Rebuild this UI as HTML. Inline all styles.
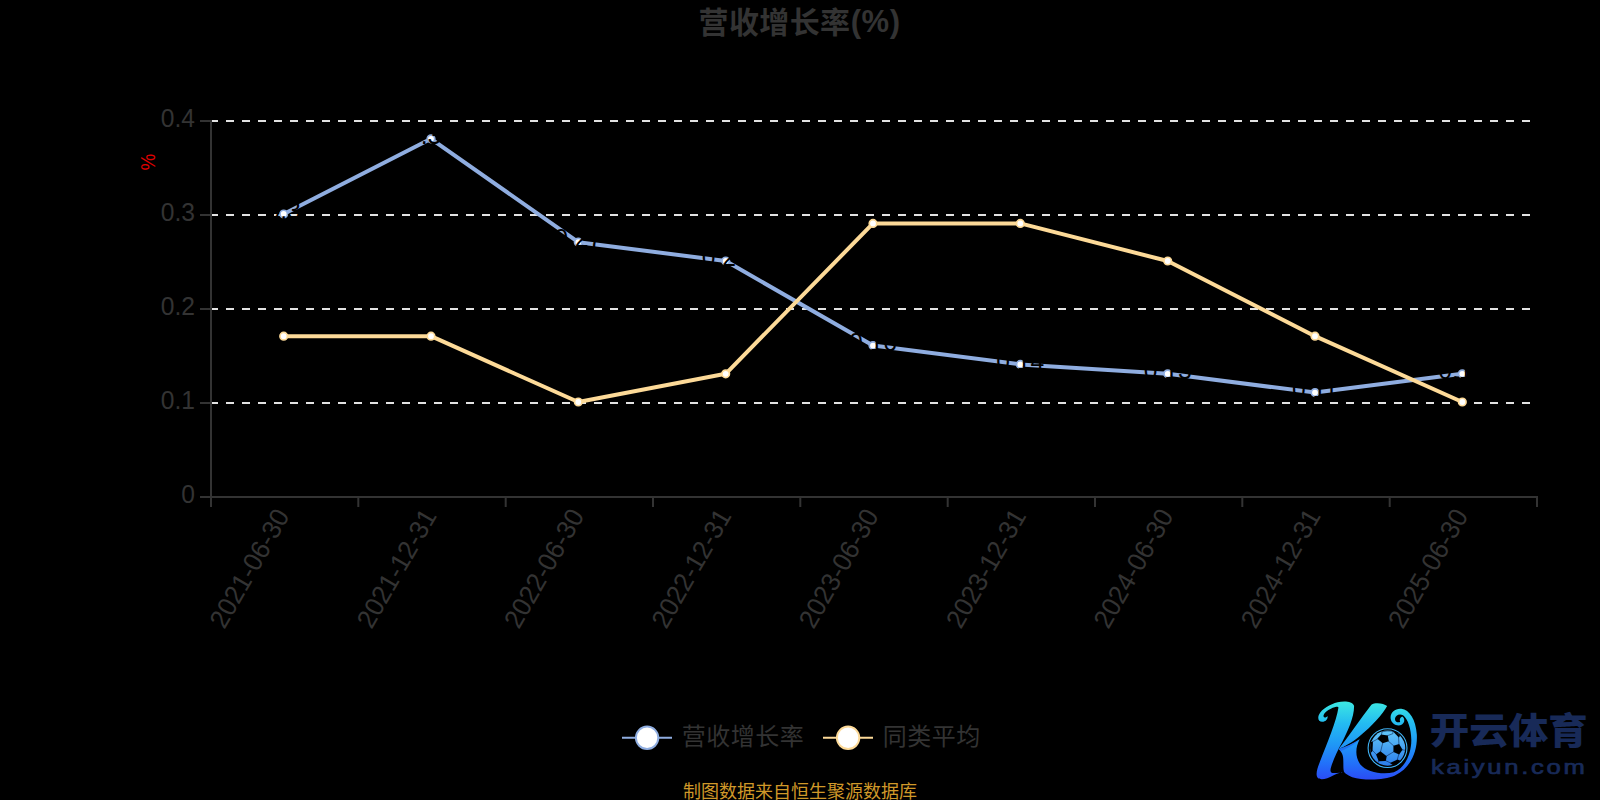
<!DOCTYPE html>
<html lang="zh-CN">
<head>
<meta charset="utf-8">
<title>营收增长率(%)</title>
<style>
html, body { margin: 0; padding: 0; background: #000; }
body { width: 1600px; height: 800px; overflow: hidden; position: relative; font-family: "Liberation Sans", "Noto Sans CJK SC", sans-serif; }
svg { position: absolute; left: 0; top: 0; display: block; }
text { font-family: "Liberation Sans", "Noto Sans CJK SC", sans-serif; }
</style>
</head>
<body>
<svg width="1600" height="800" viewBox="0 0 1600 800">
<rect x="0" y="0" width="1600" height="800" fill="#000"/>

<text x="698.6" y="33" font-size="30" font-weight="bold" fill="#333333" letter-spacing="0.35">营收增长率<tspan font-size="31" dx="0.3" dy="-1.5" letter-spacing="0.6">(%)</tspan></text>
<line x1="210" y1="403.0" x2="1536" y2="403.0" stroke="#e2e2e2" stroke-width="2" stroke-dasharray="8 8"/>
<line x1="210" y1="309.0" x2="1536" y2="309.0" stroke="#e2e2e2" stroke-width="2" stroke-dasharray="8 8"/>
<line x1="210" y1="215.0" x2="1536" y2="215.0" stroke="#e2e2e2" stroke-width="2" stroke-dasharray="8 8"/>
<line x1="210" y1="121.0" x2="1536" y2="121.0" stroke="#e2e2e2" stroke-width="2" stroke-dasharray="8 8"/>
<line x1="211" y1="120" x2="211" y2="498" stroke="#333333" stroke-width="2"/>
<line x1="210" y1="497" x2="1538" y2="497" stroke="#333333" stroke-width="2"/>
<line x1="200" y1="497.0" x2="211" y2="497.0" stroke="#333333" stroke-width="2"/>
<text transform="translate(195,502.60) scale(0.93,1)" font-size="26.5" fill="#333333" text-anchor="end">0</text>
<line x1="200" y1="403.0" x2="211" y2="403.0" stroke="#333333" stroke-width="2"/>
<text transform="translate(195,408.60) scale(0.93,1)" font-size="26.5" fill="#333333" text-anchor="end">0.1</text>
<line x1="200" y1="309.0" x2="211" y2="309.0" stroke="#333333" stroke-width="2"/>
<text transform="translate(195,314.60) scale(0.93,1)" font-size="26.5" fill="#333333" text-anchor="end">0.2</text>
<line x1="200" y1="215.0" x2="211" y2="215.0" stroke="#333333" stroke-width="2"/>
<text transform="translate(195,220.60) scale(0.93,1)" font-size="26.5" fill="#333333" text-anchor="end">0.3</text>
<line x1="200" y1="121.0" x2="211" y2="121.0" stroke="#333333" stroke-width="2"/>
<text transform="translate(195,126.60) scale(0.93,1)" font-size="26.5" fill="#333333" text-anchor="end">0.4</text>
<line x1="211.0" y1="497" x2="211.0" y2="507" stroke="#333333" stroke-width="2"/>
<line x1="358.3" y1="497" x2="358.3" y2="507" stroke="#333333" stroke-width="2"/>
<line x1="505.7" y1="497" x2="505.7" y2="507" stroke="#333333" stroke-width="2"/>
<line x1="653.0" y1="497" x2="653.0" y2="507" stroke="#333333" stroke-width="2"/>
<line x1="800.3" y1="497" x2="800.3" y2="507" stroke="#333333" stroke-width="2"/>
<line x1="947.7" y1="497" x2="947.7" y2="507" stroke="#333333" stroke-width="2"/>
<line x1="1095.0" y1="497" x2="1095.0" y2="507" stroke="#333333" stroke-width="2"/>
<line x1="1242.3" y1="497" x2="1242.3" y2="507" stroke="#333333" stroke-width="2"/>
<line x1="1389.7" y1="497" x2="1389.7" y2="507" stroke="#333333" stroke-width="2"/>
<line x1="1537.0" y1="497" x2="1537.0" y2="507" stroke="#333333" stroke-width="2"/>
<text transform="translate(285.7,513) rotate(-60) scale(0.975,1)" font-size="26.5" fill="#333333" text-anchor="end" y="5.25">2021-06-30</text>
<text transform="translate(433.0,513) rotate(-60) scale(0.975,1)" font-size="26.5" fill="#333333" text-anchor="end" y="5.25">2021-12-31</text>
<text transform="translate(580.3,513) rotate(-60) scale(0.975,1)" font-size="26.5" fill="#333333" text-anchor="end" y="5.25">2022-06-30</text>
<text transform="translate(727.7,513) rotate(-60) scale(0.975,1)" font-size="26.5" fill="#333333" text-anchor="end" y="5.25">2022-12-31</text>
<text transform="translate(875.0,513) rotate(-60) scale(0.975,1)" font-size="26.5" fill="#333333" text-anchor="end" y="5.25">2023-06-30</text>
<text transform="translate(1022.3,513) rotate(-60) scale(0.975,1)" font-size="26.5" fill="#333333" text-anchor="end" y="5.25">2023-12-31</text>
<text transform="translate(1169.7,513) rotate(-60) scale(0.975,1)" font-size="26.5" fill="#333333" text-anchor="end" y="5.25">2024-06-30</text>
<text transform="translate(1317.0,513) rotate(-60) scale(0.975,1)" font-size="26.5" fill="#333333" text-anchor="end" y="5.25">2024-12-31</text>
<text transform="translate(1464.3,513) rotate(-60) scale(0.975,1)" font-size="26.5" fill="#333333" text-anchor="end" y="5.25">2025-06-30</text>
<text transform="translate(155.2,162) rotate(-90) scale(0.9,1)" font-size="21" fill="#e00000" text-anchor="middle">%</text>
<polyline points="283.7,214.0 431.0,138.8 578.3,242.2 725.7,261.0 873.0,345.6 1020.3,364.4 1167.7,373.8 1315.0,392.6 1462.3,373.8" fill="none" stroke="#8fade0" stroke-width="4" stroke-linejoin="bevel"/>
<polyline points="283.7,336.2 431.0,336.2 578.3,402.0 725.7,373.8 873.0,223.4 1020.3,223.4 1167.7,261.0 1315.0,336.2 1462.3,402.0" fill="none" stroke="#fdda98" stroke-width="4" stroke-linejoin="bevel"/>
<circle cx="283.7" cy="214.0" r="3.75" fill="#fff" stroke="#8fade0" stroke-width="1.7"/>
<circle cx="431.0" cy="138.8" r="3.75" fill="#fff" stroke="#8fade0" stroke-width="1.7"/>
<circle cx="578.3" cy="242.2" r="3.75" fill="#fff" stroke="#8fade0" stroke-width="1.7"/>
<circle cx="725.7" cy="261.0" r="3.75" fill="#fff" stroke="#8fade0" stroke-width="1.7"/>
<circle cx="873.0" cy="345.6" r="3.75" fill="#fff" stroke="#8fade0" stroke-width="1.7"/>
<circle cx="1020.3" cy="364.4" r="3.75" fill="#fff" stroke="#8fade0" stroke-width="1.7"/>
<circle cx="1167.7" cy="373.8" r="3.75" fill="#fff" stroke="#8fade0" stroke-width="1.7"/>
<circle cx="1315.0" cy="392.6" r="3.75" fill="#fff" stroke="#8fade0" stroke-width="1.7"/>
<circle cx="1462.3" cy="373.8" r="3.75" fill="#fff" stroke="#8fade0" stroke-width="1.7"/>
<circle cx="283.7" cy="336.2" r="3.75" fill="#fff" stroke="#fdda98" stroke-width="1.7"/>
<circle cx="431.0" cy="336.2" r="3.75" fill="#fff" stroke="#fdda98" stroke-width="1.7"/>
<circle cx="578.3" cy="402.0" r="3.75" fill="#fff" stroke="#fdda98" stroke-width="1.7"/>
<circle cx="725.7" cy="373.8" r="3.75" fill="#fff" stroke="#fdda98" stroke-width="1.7"/>
<circle cx="873.0" cy="223.4" r="3.75" fill="#fff" stroke="#fdda98" stroke-width="1.7"/>
<circle cx="1020.3" cy="223.4" r="3.75" fill="#fff" stroke="#fdda98" stroke-width="1.7"/>
<circle cx="1167.7" cy="261.0" r="3.75" fill="#fff" stroke="#fdda98" stroke-width="1.7"/>
<circle cx="1315.0" cy="336.2" r="3.75" fill="#fff" stroke="#fdda98" stroke-width="1.7"/>
<circle cx="1462.3" cy="402.0" r="3.75" fill="#fff" stroke="#fdda98" stroke-width="1.7"/>
<text transform="translate(283.7,219.25) scale(0.93,1)" font-size="26.5" fill="#000" text-anchor="middle">0.3</text>
<text transform="translate(431.0,144.05) scale(0.93,1)" font-size="26.5" fill="#000" text-anchor="middle">0.38</text>
<text transform="translate(578.3,247.45) scale(0.93,1)" font-size="26.5" fill="#000" text-anchor="middle">0.27</text>
<text transform="translate(725.7,266.25) scale(0.93,1)" font-size="26.5" fill="#000" text-anchor="middle">0.25</text>
<text transform="translate(873.0,350.85) scale(0.93,1)" font-size="26.5" fill="#000" text-anchor="middle">0.16</text>
<text transform="translate(1020.3,369.65) scale(0.93,1)" font-size="26.5" fill="#000" text-anchor="middle">0.14</text>
<text transform="translate(1167.7,379.05) scale(0.93,1)" font-size="26.5" fill="#000" text-anchor="middle">0.13</text>
<text transform="translate(1315.0,397.85) scale(0.93,1)" font-size="26.5" fill="#000" text-anchor="middle">0.11</text>
<text transform="translate(1462.3,379.05) scale(0.93,1)" font-size="26.5" fill="#000" text-anchor="middle">0.13</text>
<line x1="622" y1="737.8" x2="672" y2="737.8" stroke="#8fade0" stroke-width="2"/>
<circle cx="647.1" cy="737.8" r="11.2" fill="#fff" stroke="#8fade0" stroke-width="2"/>
<text x="681.8" y="744.8" font-size="24" fill="#333333" letter-spacing="0.5">营收增长率</text>
<line x1="823" y1="737.8" x2="873" y2="737.8" stroke="#fdda98" stroke-width="2"/>
<circle cx="848.1" cy="737.8" r="11.2" fill="#fff" stroke="#fdda98" stroke-width="2"/>
<text x="882.8" y="744.8" font-size="24" fill="#333333" letter-spacing="0.5">同类平均</text>
<text x="800" y="797.5" font-size="18" fill="#cf9829" text-anchor="middle">制图数据来自恒生聚源数据库</text>
<defs>
<linearGradient id="kg" gradientUnits="userSpaceOnUse" x1="0" y1="55" x2="0" y2="750">
<stop offset="0" stop-color="#3de9e2"/>
<stop offset="0.28" stop-color="#24bcf1"/>
<stop offset="0.55" stop-color="#1f98f6"/>
<stop offset="0.8" stop-color="#2270fa"/>
<stop offset="1" stop-color="#2b4cf4"/>
</linearGradient>
<linearGradient id="bg" gradientUnits="userSpaceOnUse" x1="0" y1="90" x2="0" y2="710">
<stop offset="0" stop-color="#62c8f9"/>
<stop offset="1" stop-color="#2b7ceb"/>
</linearGradient>
</defs>
<g transform="translate(1305,695) scale(0.1125)">
<!-- stem of K with hook and bottom flick -->
<path fill="url(#kg)" d="M436,95 C422,55 345,50 290,65 C225,82 150,120 122,180 C110,212 125,240 155,238 C185,236 206,214 200,186 C190,200 172,205 165,192 C158,170 200,125 270,106 C286,101 298,104 297,114 C280,230 200,420 130,600 C105,665 92,712 115,738 C138,760 200,745 250,716 C290,694 320,688 352,680 C320,690 280,696 245,694 C225,690 222,672 232,640 C250,580 290,490 330,420 C380,320 440,190 436,95 Z"/>
<!-- upper arm of K -->
<path fill="url(#kg)" d="M298,480 C380,380 500,200 590,86 C625,62 700,72 730,98 C690,172 600,272 480,372 C420,420 352,462 298,480 Z"/>
<!-- bowl / crescent with curl -->
<path fill="url(#kg)" d="M298,480 C360,462 430,432 486,394 C452,460 440,540 490,615 C545,685 690,712 790,686 C890,650 946,520 945,400 C944,300 915,215 872,180 C838,162 804,180 800,210 C798,236 822,250 846,240 C838,222 845,200 864,192 C888,206 890,244 862,262 C826,284 772,262 762,214 C752,160 800,116 856,122 C930,130 985,220 994,350 C1002,500 940,650 800,715 C700,760 520,760 420,730 C380,715 352,696 346,680 C336,640 346,580 336,540 C330,515 315,495 298,480 Z"/>
<!-- darker shade under the arm -->
<path fill="#2166f2" opacity="0.75" d="M298,480 C360,462 430,432 486,394 C440,440 370,480 318,500 C312,492 305,486 298,480 Z"/>
</g>
<g transform="translate(1365,725) scale(0.0575)">
<circle cx="392" cy="402" r="338" fill="none" stroke="#40b4f7" stroke-width="19"/>
<circle cx="394" cy="402" r="306" fill="url(#bg)"/>
<g fill="#000">
<path d="M279,167 L396,181 L414,282 L308,316 L214,240 Z"/>
<path d="M495,360 L594,332 L653,431 L594,514 L495,468 Z"/>
<path d="M267,455 L378,544 L362,625 L238,632 L192,515 Z"/>
<path d="M476,101 L544,117 L611,186 L588,216 Z"/>
<path d="M94,301 L138,289 L131,450 L99,485 Q81,404 94,301 Z"/>
<path d="M434,660 L567,600 L618,621 L544,695 Q486,713 434,660 Z"/>
</g>
<g fill="none" stroke="#03143a" stroke-width="9" stroke-linecap="round">
<path d="M228,240 L128,292"/>
<path d="M285,176 L296,118"/>
<path d="M386,188 L486,150 L486,108"/>
<path d="M402,276 L504,368"/>
<path d="M504,462 L366,545"/>
<path d="M310,306 L270,468"/>
<path d="M590,344 L584,208"/>
<path d="M642,430 L700,440"/>
<path d="M590,502 L560,608"/>
<path d="M352,616 L444,660"/>
<path d="M244,622 L226,652"/>
<path d="M204,520 L128,440"/>
<path d="M296,118 Q380,92 486,108"/>
</g>
</g>
<text transform="translate(1429.7,744.3) scale(1,0.92)" font-size="40" font-weight="900" fill="#182a58" textLength="158" lengthAdjust="spacingAndGlyphs">开云体育</text>
<text transform="translate(1431,773.7) scale(1.25,1)" font-size="20.5" fill="#182a58" stroke="#182a58" stroke-width="0.7" textLength="123" lengthAdjust="spacing">kaiyun.com</text>

</svg>
</body>
</html>
